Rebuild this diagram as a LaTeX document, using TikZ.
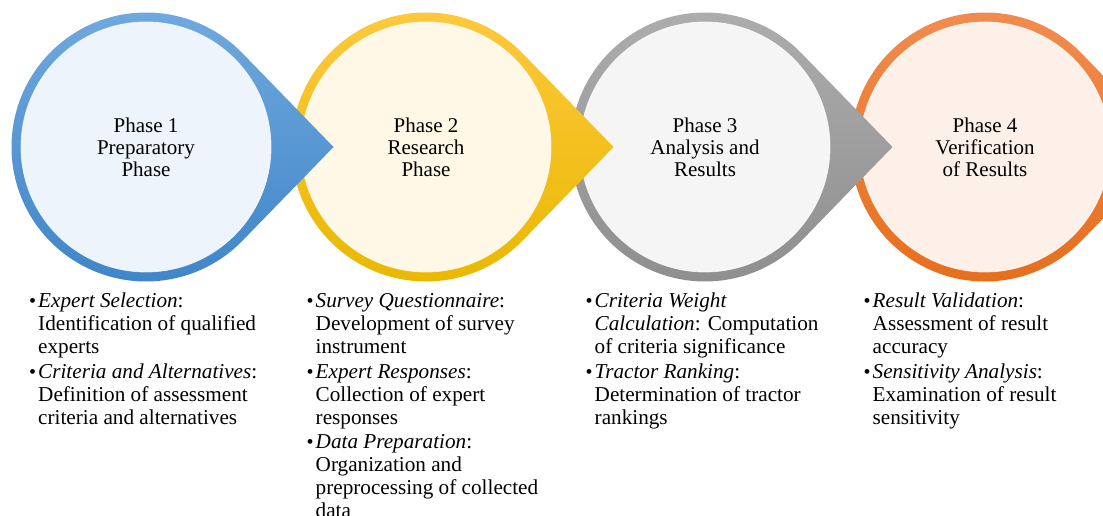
\documentclass[tikz,border=0pt]{standalone}
\usepackage{fontspec}
\setmainfont{Liberation Serif}
\definecolor{bluetop}{HTML}{72AADF}
\definecolor{bluebot}{HTML}{3E85C8}
\definecolor{bluein}{HTML}{EEF4FB}
\definecolor{yeltop}{HTML}{FFC940}
\definecolor{yelbot}{HTML}{E8B800}
\definecolor{yelin}{HTML}{FFF8E7}
\definecolor{graytop}{HTML}{AEAEAE}
\definecolor{graybot}{HTML}{8E8E8E}
\definecolor{grayin}{HTML}{F5F5F5}
\definecolor{orgtop}{HTML}{F18D52}
\definecolor{orgbot}{HTML}{E66E1C}
\definecolor{orgin}{HTML}{FDF0E9}
\newcommand\phasedrop[3]{%
  \shade[top color=#2, bottom color=#3]
    (#1,369) ++(44.2:134.5) arc[start angle=44.2, end angle=315.8, radius=134.5]
    -- (#1+187.5,369) -- cycle;}
\newcommand\bul{\makebox[8.5pt][l]{\fontsize{20}{20}\selectfont\textbullet}}
\begin{document}
\begin{tikzpicture}[x=1pt,y=1pt,
  phasetext/.style={circle, minimum size=250pt, inner sep=0pt, align=center,
    font=\fontsize{21}{22}\selectfont, draw=white, draw opacity=0.7, line width=0.8pt},
  listtext/.style={anchor=base west, inner sep=0pt, font=\fontsize{21.2}{23}\selectfont}]
\clip (0,0) rectangle (1103,516);
\fill[white] (0,0) rectangle (1103,516);
% Phase 4
\phasedrop{985}{orgtop}{orgbot}
\node[phasetext, fill=orgin] (p4) at (985,369) {Phase 4\\Verification\\of Results};
% Phase 3
\phasedrop{705}{graytop}{graybot}
\node[phasetext, fill=grayin] (p3) at (705,369) {Phase 3\\Analysis and\\Results};
% Phase 2
\phasedrop{426}{yeltop}{yelbot}
\node[phasetext, fill=yelin] (p2) at (426,369) {Phase 2\\Research\\Phase};
% Phase 1
\phasedrop{146}{bluetop}{bluebot}
\node[phasetext, fill=bluein] (p1) at (146,369) {Phase 1\\Preparatory\\Phase};
% Lists
\node[listtext] (l1) at (29,208) {\begin{tabular}[t]{@{}l@{\hspace{0.5pt}}l@{}}
\bul & \textit{Expert Selection}:\\
 & Identification of qualified\\
 & experts\\[1.5pt]
\bul & \textit{Criteria and Alternatives}:\\
 & Definition of assessment\\
 & criteria and alternatives
\end{tabular}};
\node[listtext] (l2) at (306.5,208) {\begin{tabular}[t]{@{}l@{\hspace{0.5pt}}l@{}}
\bul & \textit{Survey Questionnaire}:\\
 & Development of survey\\
 & instrument\\[1.5pt]
\bul & \textit{Expert Responses}:\\
 & Collection of expert\\
 & responses\\[1.5pt]
\bul & \textit{Data Preparation}:\\
 & Organization and\\
 & preprocessing of collected\\
 & data
\end{tabular}};
\node[listtext] (l3) at (585.5,208) {\begin{tabular}[t]{@{}l@{\hspace{0.5pt}}l@{}}
\bul & \textit{Criteria Weight}\\
 & \textit{Calculation}: Computation\\
 & of criteria significance\\[1.5pt]
\bul & \textit{Tractor Ranking}:\\
 & Determination of tractor\\
 & rankings
\end{tabular}};
\node[listtext] (l4) at (863.5,208) {\begin{tabular}[t]{@{}l@{\hspace{0.5pt}}l@{}}
\bul & \textit{Result Validation}:\\
 & Assessment of result\\
 & accuracy\\[1.5pt]
\bul & \textit{Sensitivity Analysis}:\\
 & Examination of result\\
 & sensitivity
\end{tabular}};
\end{tikzpicture}
\end{document}
